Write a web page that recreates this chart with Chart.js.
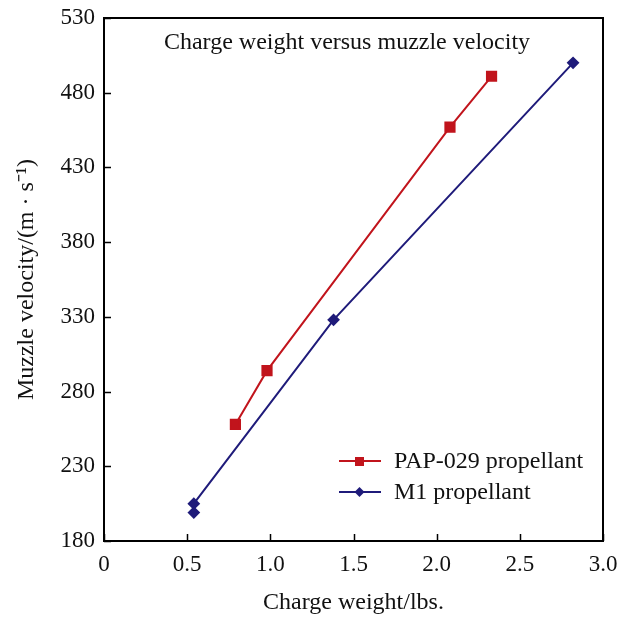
<!DOCTYPE html>
<html>
<head>
<meta charset="utf-8">
<script src="https://cdn.jsdelivr.net/npm/chart.js@4"></script>
<style>
  html, body { margin: 0; padding: 0; background: #fff; }
  #wrap { width: 632px; height: 617px; }
</style>
</head>
<body>
<div id="wrap"><canvas id="chart"></canvas></div>
<script>
// data
const papWeight = [0.79, 0.98, 2.08, 2.33];
const papVelocity = [258, 294, 457, 491];
const m1Weight = [0.54, 0.54, 1.38, 2.82];
const m1Velocity = [199, 205, 328, 500];
const xTicks = [0, 0.5, 1.0, 1.5, 2.0, 2.5, 3.0];
const yTicks = [180, 230, 280, 330, 380, 430, 480, 530];

const FONT = "'Liberation Serif', 'Times New Roman', serif";
const RED = "#c1141c";
const BLUE = "#1f1b7a";

function pts(xs, ys) {
  return xs.map((x, i) => ({ x: x, y: ys[i] }));
}

// frame, inward ticks, title and legend drawn inside the plot
const decor = {
  id: "decor",
  afterDraw(chart) {
    const ctx = chart.ctx;
    const a = chart.chartArea;
    const xs = chart.scales.x, ys = chart.scales.y;
    ctx.save();
    ctx.strokeStyle = "#000";
    ctx.lineWidth = 2;
    ctx.strokeRect(a.left, a.top, a.right - a.left, a.bottom - a.top);
    ctx.lineWidth = 1.5;
    ctx.beginPath();
    xTicks.forEach(v => {
      const px = Math.round(xs.getPixelForValue(v)) + 0.5;
      ctx.moveTo(px, a.bottom);
      ctx.lineTo(px, a.bottom - 7);
    });
    yTicks.forEach(v => {
      const py = Math.round(ys.getPixelForValue(v)) + 0.5;
      ctx.moveTo(a.left, py);
      ctx.lineTo(a.left + 7, py);
    });
    ctx.stroke();

    ctx.fillStyle = "#111";
    ctx.font = "24px " + FONT;
    ctx.textAlign = "center";
    ctx.textBaseline = "middle";
    ctx.fillText("Charge weight versus muzzle velocity", 347, 43);

    // legend
    ctx.textAlign = "left";
    chart.data.datasets.forEach((ds, i) => {
      const y = 461 + i * 31;
      ctx.strokeStyle = ds.borderColor;
      ctx.lineWidth = 2;
      ctx.beginPath();
      ctx.moveTo(339, y);
      ctx.lineTo(381, y);
      ctx.stroke();
      ctx.fillStyle = ds.borderColor;
      if (ds.pointStyle === "rect") {
        ctx.fillRect(355, y - 4, 9, 9);
      } else {
        ctx.beginPath();
        ctx.moveTo(359.5, y - 5);
        ctx.lineTo(364.5, y);
        ctx.lineTo(359.5, y + 5);
        ctx.lineTo(354.5, y);
        ctx.closePath();
        ctx.fill();
      }
      ctx.fillStyle = "#111";
      ctx.font = "24px " + FONT;
      ctx.fillText(ds.label, 394, y + 1);
    });
    ctx.restore();
  }
};

new Chart(document.getElementById("chart"), {
  type: "line",
  data: {
    datasets: [
      {
        label: "PAP-029 propellant",
        data: pts(papWeight, papVelocity),
        borderColor: RED,
        backgroundColor: RED,
        borderWidth: 2,
        pointStyle: "rect",
        pointRadius: 6.5,
        pointHoverRadius: 6.5
      },
      {
        label: "M1 propellant",
        data: pts(m1Weight, m1Velocity),
        borderColor: BLUE,
        backgroundColor: BLUE,
        borderWidth: 2,
        pointStyle: "rectRot",
        pointRadius: 5,
        pointHoverRadius: 5
      }
    ]
  },
  options: {
    responsive: true,
    maintainAspectRatio: false,
    animation: false,
    layout: { padding: { top: 18, right: 29, left: 0, bottom: 0 } },
    plugins: {
      legend: { display: false },
      tooltip: { enabled: false }
    },
    scales: {
      x: {
        type: "linear",
        min: 0,
        max: 3,
        afterBuildTicks: s => { s.ticks = xTicks.map(v => ({ value: v })); },
        afterFit: s => { s.height = 76; },
        grid: { display: false, drawTicks: false },
        border: { display: false },
        ticks: {
          color: "#111",
          font: { family: FONT, size: 23 },
          padding: 10,
          maxRotation: 0,
          callback: v => v === 0 ? "0" : v.toFixed(1)
        },
        title: {
          display: true,
          text: "Charge weight/lbs.",
          color: "#111",
          font: { family: FONT, size: 24 },
          padding: { top: 10, bottom: 0 }
        }
      },
      y: {
        type: "linear",
        min: 180,
        max: 530,
        afterBuildTicks: s => { s.ticks = yTicks.map(v => ({ value: v })); },
        afterFit: s => { s.width = 104; s.paddingTop = 0; s.paddingBottom = 0; },
        grid: { display: false, drawTicks: false },
        border: { display: false },
        ticks: {
          color: "#111",
          font: { family: FONT, size: 23 },
          padding: 9
        },
        title: {
          display: true,
          text: "Muzzle velocity/(m \u00b7 s\u207b\u00b9)",
          color: "#111",
          font: { family: FONT, size: 24 },
          padding: { top: 12, bottom: 0 }
        }
      }
    }
  },
  plugins: [decor]
});
</script>
</body>
</html>
